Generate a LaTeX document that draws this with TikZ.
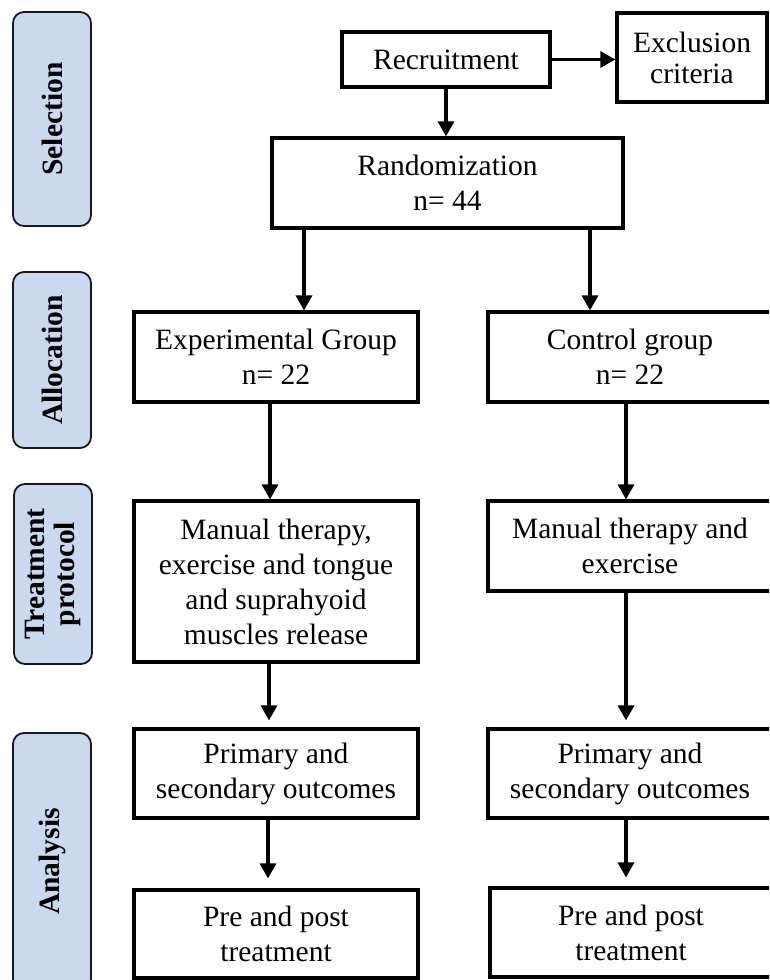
\documentclass[tikz,border=0pt]{standalone}
\usepackage{fontspec}
\setmainfont{Liberation Serif}
\usetikzlibrary{arrows.meta}
\definecolor{sidefill}{HTML}{CAD9EF}
\tikzset{
  mbox/.style={draw=black, line width=3.2pt, fill=white, inner sep=0pt, align=center,
    font=\fontsize{29.5}{35}\selectfont},
  side/.style={draw=black!90, line width=1.8pt, fill=sidefill, rounded corners=11pt,
    rotate=90, inner sep=0pt, align=center, minimum height=78pt,
    font=\fontsize{29.5}{30}\selectfont\bfseries},
  arr/.style={line width=3.3pt, -{Triangle[length=15pt,width=16pt]}}
}
\begin{document}
\begin{tikzpicture}[x=1pt,y=-1pt]
\useasboundingbox (0,0) rectangle (769,980);
\clip (0,0) rectangle (769,980);
\fill[white] (0,0) rectangle (769,980);

% side labels
\node[side, minimum width=214pt] (sel) at (52,119) {Selection};
\node[side, minimum width=176pt] (alloc) at (52,360) {Allocation};
\node[side, minimum width=180pt] (treat) at (53,574) {Treatment\\protocol};
\node[side, minimum width=257pt] (anal) at (52,861.5) {Analysis};

% main boxes
\node[mbox, minimum width=208pt, minimum height=55pt] (rec) at (446,59.5) {Recruitment};
\node[mbox, minimum width=150pt, minimum height=89pt, font=\fontsize{29.5}{31}\selectfont] (excl) at (692,57.5) {Exclusion\\criteria};
\node[mbox, minimum width=351pt, minimum height=90pt] (rand) at (447.5,183) {Randomization\\n= 44};

\node[mbox, minimum width=284pt, minimum height=90pt] (exp) at (276,357) {Experimental Group\\n= 22};
\node[mbox, minimum width=284pt, minimum height=90pt] (ctrl) at (630,357) {Control group\\n= 22};

\node[mbox, minimum width=284pt, minimum height=161pt] (tl) at (276,581.5) {Manual therapy,\\exercise and tongue\\and suprahyoid\\muscles release};
\node[mbox, minimum width=284pt, minimum height=90pt] (tr) at (630,546) {Manual therapy and\\exercise};

\node[mbox, minimum width=284pt, minimum height=89pt] (pl) at (276,773.5) {Primary and\\secondary outcomes};
\node[mbox, minimum width=284pt, minimum height=89pt] (pr) at (630,773.5) {Primary and\\secondary outcomes};

\node[mbox, minimum width=284pt, minimum height=88pt] (ql) at (276,934) {Pre and post\\treatment};
\node[mbox, minimum width=282pt, minimum height=89pt] (qr) at (631,932.5) {Pre and post\\treatment};

% connectors
\draw[arr] (rec.east) -- (excl.west |- rec.east);
\draw[arr] (rec.south) -- (rec.south |- rand.north);
\draw[arr] ([xshift=-143.5pt]rand.south) -- ([xshift=-143.5pt]rand.south |- exp.north);
\draw[arr] ([xshift=142.5pt]rand.south) -- ([xshift=142.5pt]rand.south |- ctrl.north);

\draw[arr] ([xshift=-6pt]exp.south) -- ([xshift=-6pt]exp.south |- tl.north);
\draw[arr] ([xshift=-4pt]ctrl.south) -- ([xshift=-4pt]ctrl.south |- tr.north);

\draw[arr, shorten >=7pt] ([xshift=-7pt]tl.south) -- ([xshift=-7pt]tl.south |- pl.north);
\draw[arr, shorten >=7pt] ([xshift=-4pt]tr.south) -- ([xshift=-4pt]tr.south |- pr.north);

\draw[arr, shorten >=10pt] ([xshift=-8pt]pl.south) -- ([xshift=-8pt]pl.south |- ql.north);
\draw[arr, shorten >=9pt] ([xshift=-4pt]pr.south) -- ([xshift=-4pt]pr.south |- qr.north);
\end{tikzpicture}
\end{document}
